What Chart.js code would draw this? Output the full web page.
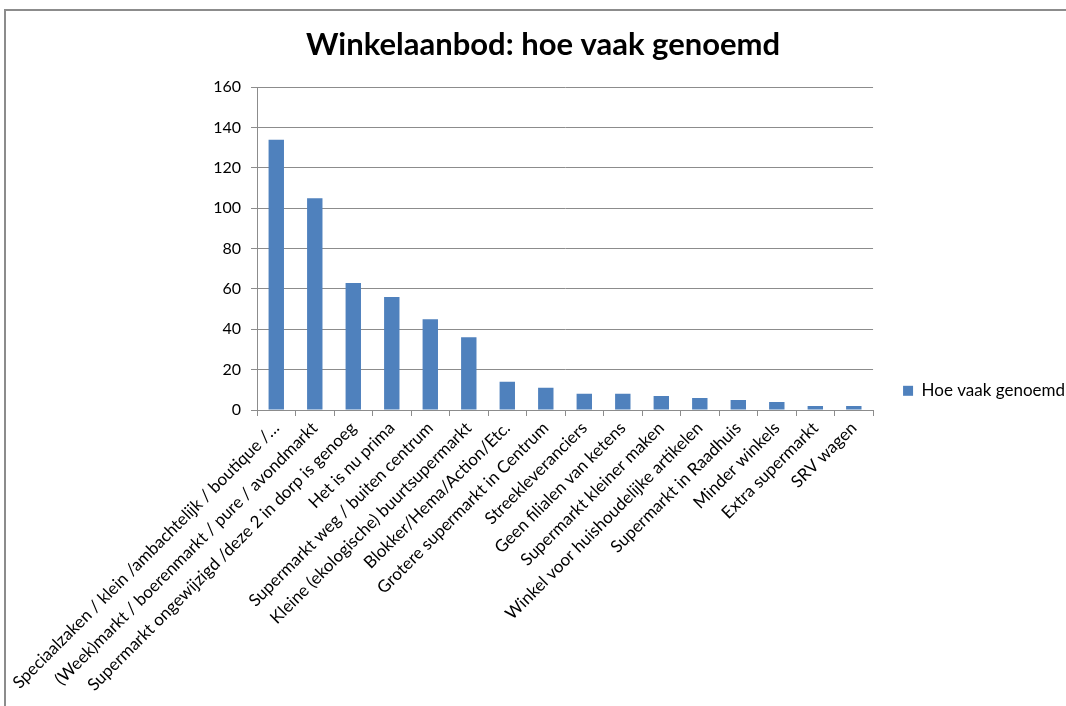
<!DOCTYPE html>
<html>
<head>
<meta charset="utf-8">
<script src="https://cdn.jsdelivr.net/npm/chart.js@4"></script>
<style>
  body { margin: 0; background: #fff; overflow: hidden; }
  #frame {
    position: absolute; left: 4px; top: 9px;
    width: 1062px; height: 697px;
    border-left: 2px solid #8c8c8c; border-top: 2px solid #8c8c8c;
  }
</style>
</head>
<body>
<div id="frame"><canvas id="winkelChart"></canvas></div>
<script>
const categories = [
  'Speciaalzaken / klein /ambachtelijk / boutique /…',
  '(Week)markt / boerenmarkt / pure / avondmarkt',
  'Supermarkt ongewijzigd /deze 2 in dorp is genoeg',
  'Het is nu prima',
  'Supermarkt weg / buiten centrum',
  'Kleine (ekologische) buurtsupermarkt',
  'Blokker/Hema/Action/Etc.',
  'Grotere supermarkt in Centrum',
  'Streekleveranciers',
  'Geen filialen van ketens',
  'Supermarkt kleiner maken',
  'Winkel voor huishoudelijke artikelen',
  'Supermarkt in Raadhuis',
  'Minder winkels',
  'Extra supermarkt',
  'SRV wagen'
];
const timesMentioned = [134, 105, 63, 56, 45, 36, 14, 11, 8, 8, 7, 6, 5, 4, 2, 2];
const yTicks = [0, 20, 40, 60, 80, 100, 120, 140, 160];

const ctx = document.getElementById('winkelChart');
ctx.width = 1062; ctx.height = 697;

const config = {
  type: 'bar',
  data: {
    labels: categories,
    datasets: [{
      label: 'Hoe vaak genoemd',
      data: timesMentioned,
      backgroundColor: '#4F81BD',
      barPercentage: 0.4,
      categoryPercentage: 1.0
    }]
  },
  options: {
    responsive: false,
    animation: false,
    // small negative right padding so the legend sits close to the edge, like the original
    layout: { padding: { top: 7, right: -7, bottom: 0, left: 5 } },
    font: { family: 'Lato' },
    scales: {
      x: {
        grid: { drawOnChartArea: false, color: '#8c8c8c', tickLength: 6, offset: true },
        border: { color: '#8c8c8c' },
        ticks: {
          minRotation: 45, maxRotation: 45, autoSkip: false,
          color: '#000', font: { family: 'Lato', size: 17 }, padding: 2
        },
        afterFit: axis => { axis.height = 298; }
      },
      y: {
        min: 0, max: 160,
        afterBuildTicks: axis => { axis.ticks = yTicks.map(v => ({ value: v })); },
        grid: { color: '#8c8c8c', tickLength: 6 },
        border: { color: '#8c8c8c' },
        ticks: { color: '#000', font: { family: 'Lato', size: 16 }, padding: 10 },
        afterFit: axis => { axis.width = 246; }
      }
    },
    plugins: {
      title: {
        display: true,
        text: 'Winkelaanbod: hoe vaak genoemd',
        color: '#000',
        font: { family: 'Lato', size: 31, weight: 'bold' },
        padding: { top: 8, bottom: 24 }
      },
      legend: {
        position: 'right',
        align: 'center',
        title: { display: true, text: ' ', font: { size: 13 }, padding: { top: 0, bottom: 40 } },
        labels: {
          color: '#000', boxWidth: 10, boxHeight: 10,
          font: { family: 'Lato', size: 17 }, padding: 30
        }
      },
      tooltip: { enabled: false }
    }
  }
};

const winkelChart = new Chart(ctx, config);
</script>
</body>
</html>
